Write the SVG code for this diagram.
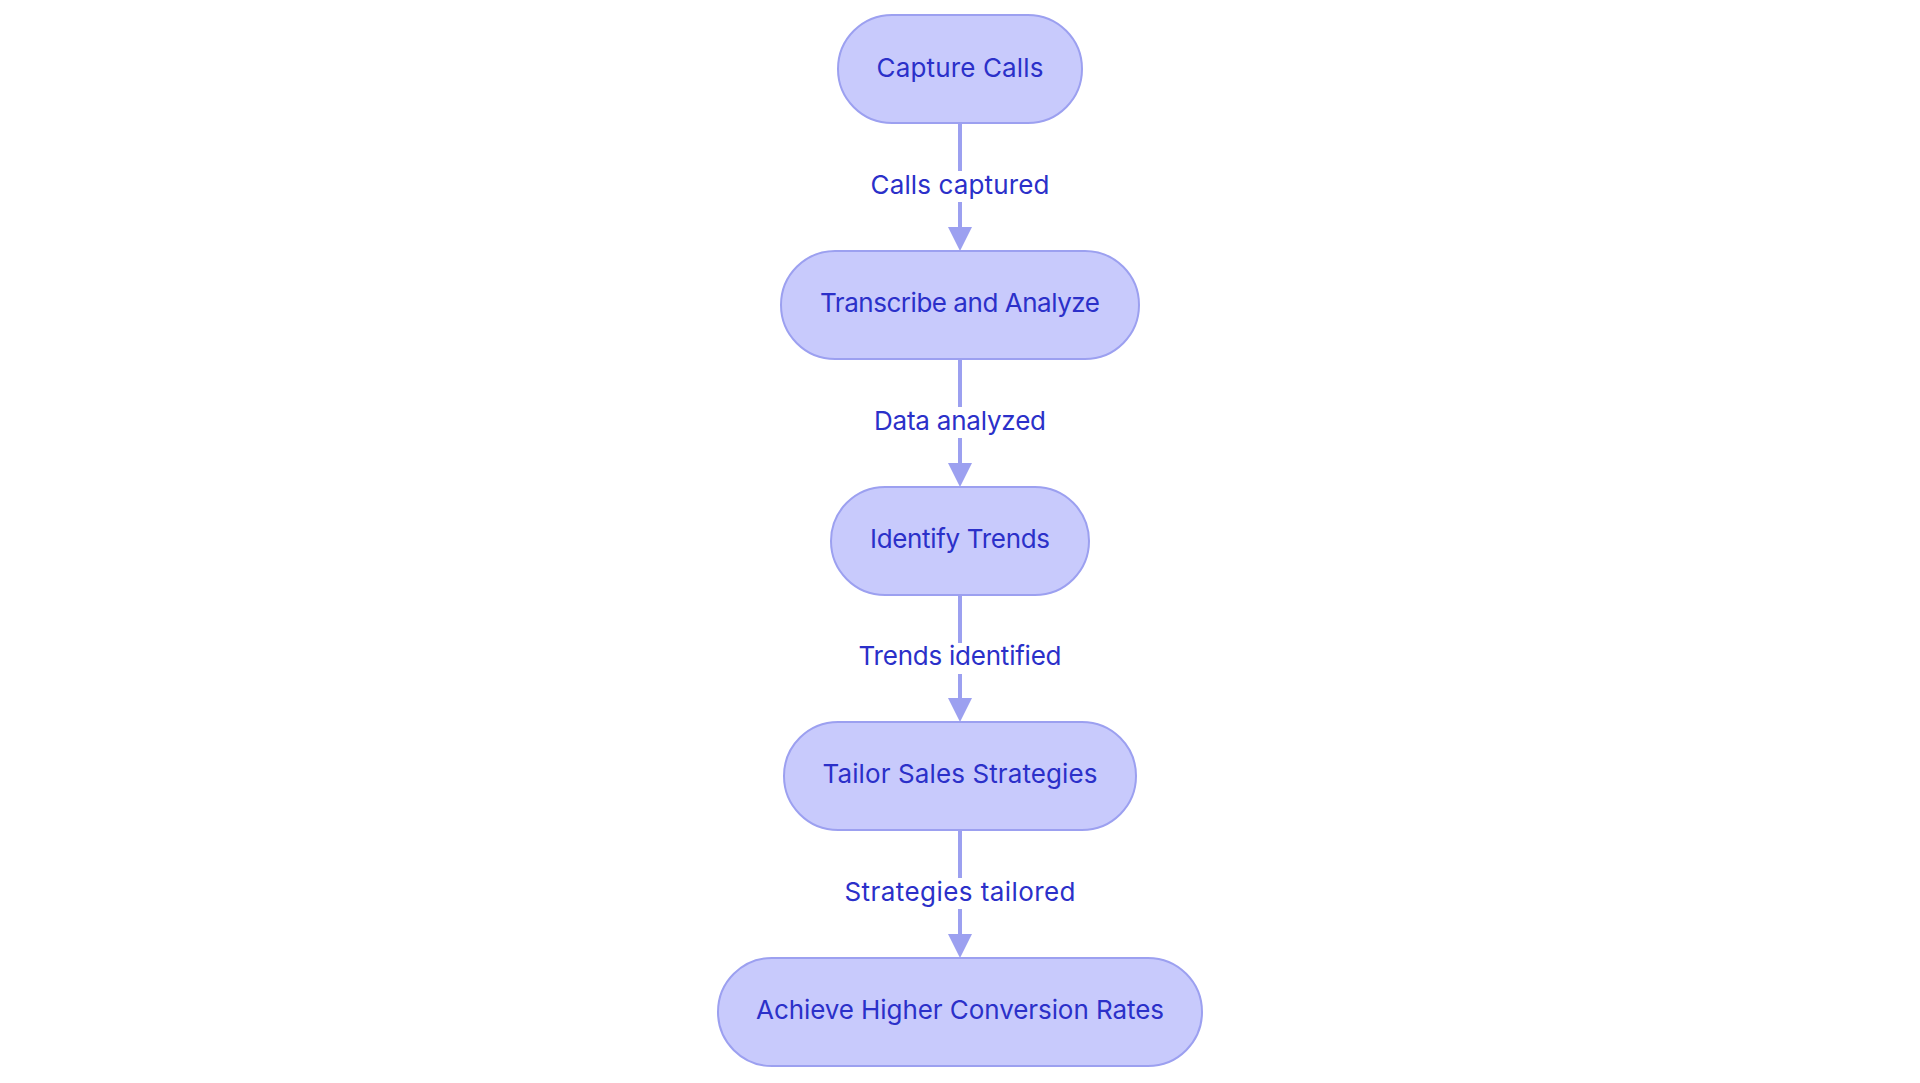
<svg xmlns="http://www.w3.org/2000/svg" width="1920" height="1083" viewBox="0 0 1920 1083">
<style>
.node rect{fill:#C8CAFC;stroke:#9CA0F0;stroke-width:2}
.node text,.lbl text{font-family:Inter,"Liberation Sans",sans-serif;font-size:26px;fill:#2B30C9;text-anchor:middle}
.edge{stroke:#9CA0F0;stroke-width:4;fill:none}
.lbl rect{fill:#ffffff}
</style>
<defs>
<marker id="arr" markerUnits="userSpaceOnUse" markerWidth="24" markerHeight="24" refX="0" refY="12" orient="auto">
<path d="M0,0 L24,12 L0,24 z" fill="#9CA0F0"/>
</marker>
</defs>
<rect width="1920" height="1083" fill="#ffffff"/>
<g id="connectors">
<path class="edge" d="M960,123 L960,227" marker-end="url(#arr)"/>
<path class="edge" d="M960,359 L960,463" marker-end="url(#arr)"/>
<path class="edge" d="M960,595 L960,698" marker-end="url(#arr)"/>
<path class="edge" d="M960,830 L960,934" marker-end="url(#arr)"/>
<g class="lbl"><rect x="868" y="171" width="184" height="31"/><text x="960" y="194" textLength="179">Calls captured</text></g>
<g class="lbl"><rect x="871" y="407" width="178" height="31"/><text x="960" y="430" textLength="172">Data analyzed</text></g>
<g class="lbl"><rect x="855" y="643" width="210" height="31"/><text x="960" y="665" textLength="203">Trends identified</text></g>
<g class="lbl"><rect x="842" y="878" width="236" height="31"/><text x="960" y="901" textLength="231">Strategies tailored</text></g>
</g>
<g id="n1" class="node"><rect x="838" y="15" width="244" height="108" rx="54"/><text x="960" y="77" textLength="167">Capture Calls</text></g>
<g id="n2" class="node"><rect x="781" y="251" width="358" height="108" rx="54"/><text x="960" y="312" textLength="280">Transcribe and Analyze</text></g>
<g id="n3" class="node"><rect x="831" y="487" width="258" height="108" rx="54"/><text x="960" y="548" textLength="180">Identify Trends</text></g>
<g id="n4" class="node"><rect x="784" y="722" width="352" height="108" rx="54"/><text x="960" y="783" textLength="275">Tailor Sales Strategies</text></g>
<g id="n5" class="node"><rect x="718" y="958" width="484" height="108" rx="54"/><text x="960" y="1019" textLength="408">Achieve Higher Conversion Rates</text></g>
</svg>
